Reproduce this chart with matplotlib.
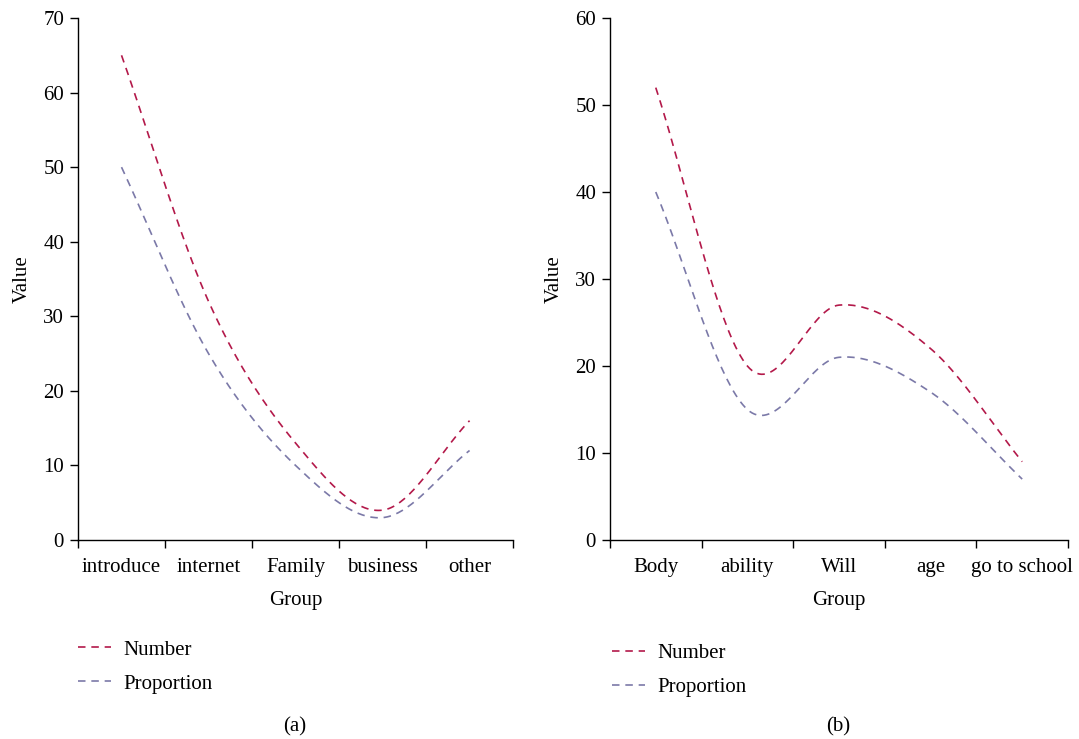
import numpy as np
import matplotlib
matplotlib.use("Agg")
import matplotlib.pyplot as plt

plt.rcParams['font.family'] = ['Liberation Serif', 'DejaVu Serif']

# data
groups_a = ['introduce', 'internet', 'Family', 'business', 'other']
number_a = [65, 32, 13, 4, 16]
proportion_a = [50, 25, 10, 3, 12]

groups_b = ['Body', 'ability', 'Will', 'age', 'go to school']
number_b = [52, 20, 27, 22, 9]
proportion_b = [40, 15, 21, 17, 7]

red = '#b3194a'
blue = '#7b79a8'
fs = 15


def smooth(x, y, n=40):
    # Catmull-Rom curve through the points, only for drawing the line
    x = np.asarray(x, float)
    y = np.asarray(y, float)
    k = len(x)
    m = np.zeros(k)
    m[1:-1] = (y[2:] - y[:-2]) / (x[2:] - x[:-2])
    m[0] = (y[1] - y[0]) / (x[1] - x[0])
    m[-1] = (y[-1] - y[-2]) / (x[-1] - x[-2])
    xs_all, ys_all = [], []
    for i in range(k - 1):
        h = x[i + 1] - x[i]
        t = np.linspace(0, 1, n)
        h00 = 2 * t**3 - 3 * t**2 + 1
        h10 = t**3 - 2 * t**2 + t
        h01 = -2 * t**3 + 3 * t**2
        h11 = t**3 - t**2
        xs_all.append(x[i] + t * h)
        ys_all.append(h00 * y[i] + h10 * h * m[i] + h01 * y[i + 1] + h11 * h * m[i + 1])
    return np.concatenate(xs_all), np.concatenate(ys_all)


fig = plt.figure(figsize=(10.79, 7.39), dpi=100)
ax1 = fig.add_axes([0.0723, 0.2693, 0.4032, 0.7063])
ax2 = fig.add_axes([0.5653, 0.2693, 0.4245, 0.7063])

panels = [
    (ax1, groups_a, number_a, proportion_a, 70, (0.0723, 0.134), '(a)', 0.2734),
    (ax2, groups_b, number_b, proportion_b, 60, (0.567, 0.129), '(b)', 0.7766),
]

for ax, groups, num, prop, ymax, legpos, cap, capx in panels:
    pos = np.arange(len(groups)) + 0.5
    xs, ys = smooth(pos, num)
    ax.plot(xs, ys, color=red, lw=1.2, dashes=(4.5, 3.5), label='Number')
    xs, ys = smooth(pos, prop)
    ax.plot(xs, ys, color=blue, lw=1.2, dashes=(4.5, 3.5), label='Proportion')

    ax.set_xlim(0, len(groups))
    ax.set_ylim(0, ymax)
    ax.set_yticks(np.arange(0, ymax + 1, 10))
    ax.set_xticks(np.arange(len(groups) + 1))
    ax.set_xticklabels([])
    ax.set_xticks(pos, minor=True)
    ax.set_xticklabels(groups, minor=True)
    ax.tick_params(axis='x', which='minor', length=0, pad=13, labelsize=fs)
    ax.tick_params(axis='x', which='major', length=6, width=1, direction='out')
    ax.tick_params(axis='y', length=6, width=1, labelsize=fs, pad=4)
    for s in ['top', 'right']:
        ax.spines[s].set_visible(False)
    for s in ['left', 'bottom']:
        ax.spines[s].set_linewidth(1)
    ax.set_xlabel('Group', fontsize=fs, labelpad=10)
    ax.set_ylabel('Value', fontsize=fs, labelpad=8)

    h, l = ax.get_legend_handles_labels()
    fig.legend(h, l, loc='upper left', bbox_to_anchor=legpos, frameon=False,
               fontsize=fs, handlelength=1.6, handletextpad=0.6, labelspacing=0.7,
               borderpad=0, borderaxespad=0)
    fig.text(capx, 0.016, cap, ha='center', va='center', fontsize=fs)

fig.savefig('out.png', dpi=100)
